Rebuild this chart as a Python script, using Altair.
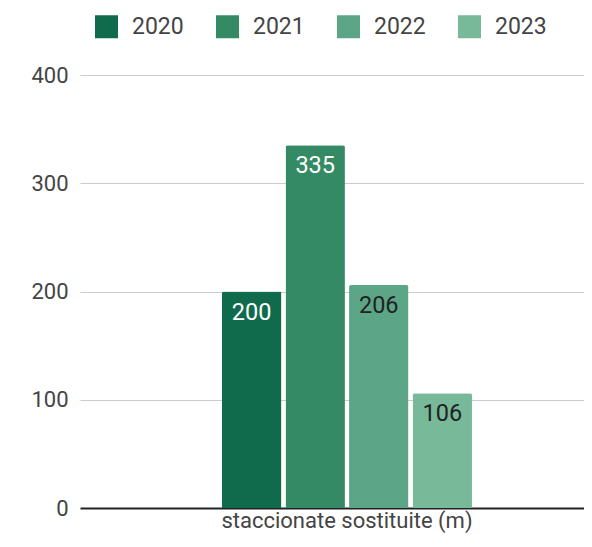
import altair as alt
import pandas as pd

categoria = ["staccionate sostituite (m)"] * 4
anni = ["2020", "2021", "2022", "2023"]
valori = [200, 335, 206, 106]
colori = ["#0f6b4c", "#348a64", "#5ca687", "#78b99a"]

df = pd.DataFrame({"cat": categoria, "anno": anni, "valore": valori})

FONT = "Roboto"

base = alt.Chart(df).encode(
    x=alt.X("cat:N", title=None,
            scale=alt.Scale(paddingInner=0, paddingOuter=0.508, align=0.559),
            axis=alt.Axis(labelAngle=0, labelFontSize=22, labelColor="#444444",
                          labelFont=FONT, ticks=False, domainColor="#222222",
                          domainWidth=2, labelPadding=2, labelLimit=0)),
    xOffset=alt.XOffset("anno:N", scale=alt.Scale(paddingInner=0.065, paddingOuter=0)),
)

bars = base.mark_bar(cornerRadiusTopLeft=2, cornerRadiusTopRight=2).encode(
    y=alt.Y("valore:Q", title=None,
            scale=alt.Scale(domain=[0, 400]),
            axis=alt.Axis(values=[0, 100, 200, 300, 400], labelFontSize=22,
                          labelColor="#444444", labelFont=FONT, ticks=False,
                          domain=False, gridColor="#cccccc", gridWidth=1.2,
                          labelPadding=12)),
    color=alt.Color("anno:N", title=None,
                    scale=alt.Scale(domain=anni, range=colori),
                    legend=alt.Legend(orient="none", direction="horizontal",
                                      legendX=15, legendY=-60,
                                      symbolType="square", symbolSize=529,
                                      symbolStrokeWidth=0, labelFontSize=23,
                                      labelFont=FONT, labelColor="#444444",
                                      labelOffset=14, columnPadding=32)),
)

labels = base.mark_text(baseline="middle", dy=21, fontSize=23.5, font=FONT).encode(
    y=alt.Y("valore:Q"),
    text=alt.Text("valore:Q"),
    color=alt.condition("datum.anno == '2020' || datum.anno == '2021'",
                        alt.value("white"), alt.value("#222222")),
)

chart = alt.layer(bars, labels).properties(
    width=504, height=433,
    autosize=alt.AutoSizeParams(type="none"),
    padding={"left": 72, "top": 67, "right": 0, "bottom": 30},
).configure_view(stroke=None)

chart.save("out.html", embed_options={"renderer": "svg", "actions": False})
